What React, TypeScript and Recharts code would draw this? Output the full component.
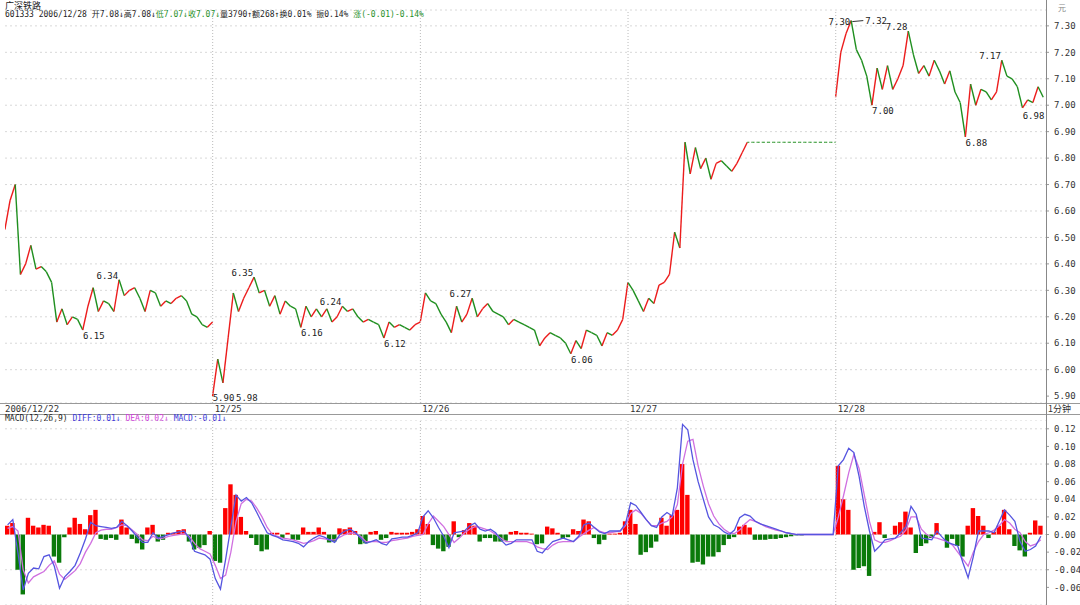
import {
  ComposedChart,
  Bar,
  Line,
  Scatter,
  XAxis,
  YAxis,
  CartesianGrid,
  ReferenceLine,
  Cell,
} from 'recharts'

// one slot = 6 minutes, 40 slots per trading day
const DAYS = ['2006/12/22', '12/25', '12/26', '12/27', '12/28']
const DAY_OPEN = [6.53, 5.9, 6.18, 6.33, 7.03]

const PRICE_1222 = [
  6.64, 6.70, 6.36, 6.40, 6.47, 6.38, 6.39, 6.37, 6.33, 6.18,
  6.23, 6.17, 6.20, 6.19, 6.15, 6.24, 6.31, 6.22, 6.26, 6.25,
  6.22, 6.34, 6.28, 6.30, 6.31, 6.27, 6.22, 6.30, 6.29, 6.24,
  6.26, 6.25, 6.27, 6.28, 6.26, 6.21, 6.20, 6.17, 6.16, 6.18,
]
const PRICE_1225 = [
  6.04, 5.95, 6.12, 6.29, 6.22, 6.27, 6.31, 6.35, 6.29, 6.30,
  6.24, 6.28, 6.21, 6.26, 6.24, 6.23, 6.16, 6.24, 6.20, 6.23,
  6.20, 6.23, 6.18, 6.20, 6.24, 6.22, 6.23, 6.20, 6.18, 6.19,
  6.18, 6.17, 6.12, 6.18, 6.16, 6.17, 6.16, 6.15, 6.17, 6.18,
]
const PRICE_1226 = [
  6.29, 6.26, 6.25, 6.21, 6.18, 6.14, 6.24, 6.18, 6.21, 6.27,
  6.20, 6.23, 6.25, 6.22, 6.21, 6.20, 6.17, 6.19, 6.18, 6.17,
  6.16, 6.15, 6.09, 6.12, 6.14, 6.13, 6.12, 6.10, 6.06, 6.11,
  6.08, 6.15, 6.14, 6.13, 6.09, 6.14, 6.13, 6.15, 6.19, 6.33,
]
const PRICE_1227 = [
  6.30, 6.26, 6.22, 6.27, 6.25, 6.32, 6.33, 6.36, 6.52, 6.46,
  6.86, 6.74, 6.84, 6.76, 6.80, 6.72, 6.78, 6.79, 6.77, 6.75,
  6.78, 6.82, 6.86, 6.86, 6.86, 6.86, 6.86, 6.86, 6.86, 6.86,
  6.86, 6.86, 6.86, 6.86, 6.86, 6.86, 6.86, 6.86, 6.86, 6.86,
]
const PRICE_1228 = [
  7.20, 7.27, 7.32, 7.21, 7.17, 7.11, 7.00, 7.14, 7.06, 7.15,
  7.06, 7.10, 7.15, 7.28, 7.19, 7.12, 7.15, 7.11, 7.17, 7.13,
  7.08, 7.13, 7.05, 7.01, 6.88, 7.08, 7.00, 7.06, 7.05, 7.02,
  7.05, 7.17, 7.11, 7.10, 7.07, 6.99, 7.02, 7.01, 7.07, 7.03,
]

const HIST = [
  0.010, 0.013, -0.040, -0.068, 0.019, 0.010, 0.008, 0.011, 0.010, -0.025,
  -0.032, -0.003, 0.008, 0.019, 0.012, 0.006, 0.022, 0.028, -0.005, -0.006,
  -0.004, -0.006, 0.017, 0.008, -0.005, -0.010, -0.017, 0.008, 0.011, -0.008,
  -0.006, 0.002, 0.002, 0.005, 0.006, -0.008, -0.017, -0.015, -0.012, 0.004,
  -0.030, -0.032, 0.030, 0.057, 0.045, 0.020, 0.004, -0.004, -0.012, -0.019,
  -0.017, 0.002, 0.002, -0.004, 0.002, -0.006, -0.006, 0.008, 0.003, 0.003,
  0.008, 0.003, -0.009, -0.008, 0.007, 0.006, 0.008, 0.004, -0.011, -0.010,
  0.003, 0.004, -0.006, -0.004, 0.003, 0.002, 0.002, 0.002, 0.003, 0.006,
  0.021, 0.012, -0.012, -0.016, -0.019, -0.014, 0.015, -0.003, 0.005, 0.013,
  0.010, -0.008, -0.004, -0.004, -0.008, -0.008, -0.007, 0.003, 0.004, 0.002,
  0.002, 0.001, -0.011, -0.010, 0.009, 0.007, 0.002, -0.004, -0.003, 0.006,
  0.004, 0.017, 0.015, -0.004, -0.011, -0.006, 0.001, 0.001, 0.002, 0.015,
  0.028, 0.012, -0.023, -0.020, -0.015, -0.008, 0.019, 0.010, 0.022, 0.028,
  0.080, 0.045, -0.032, -0.031, -0.034, -0.025, -0.025, -0.020, -0.012, -0.005,
  -0.003, 0.009, 0.011, 0.008, -0.006, -0.006, -0.006, -0.005, -0.005, -0.004,
  -0.003, -0.002, -0.001, -0.001, 0, 0, 0, 0, 0, 0,
  0.078, 0.040, 0.028, -0.040, -0.038, -0.036, -0.047, 0.003, 0.014, -0.004,
  0.000, 0.010, 0.014, 0.026, 0.008, -0.021, -0.013, -0.010, -0.004, 0.013,
  0.000, -0.015, -0.005, -0.013, -0.025, 0.010, 0.030, 0.021, 0.010, -0.004,
  0.003, 0.010, 0.028, 0.006, -0.013, -0.018, -0.025, 0.002, 0.016, 0.010,
]
const DIFF = [
  0.011, 0.017, -0.021, -0.063, -0.044, -0.038, -0.039, -0.025, -0.023, -0.036,
  -0.061, -0.048, -0.042, -0.035, -0.021, -0.005, 0.014, 0.010, 0.009, 0.008,
  0.007, 0.008, 0.015, 0.010, 0.004, -0.003, -0.009, -0.009, 0.002, -0.004,
  -0.002, 0.000, 0.002, 0.003, 0.004, -0.004, -0.019, -0.021, -0.023, -0.028,
  -0.050, -0.062, -0.028, 0.009, 0.045, 0.038, 0.042, 0.036, 0.025, 0.013,
  0.002, -0.001, -0.003, -0.006, -0.007, -0.008, -0.010, -0.014, -0.008, -0.004,
  -0.001, -0.003, -0.006, -0.009, 0.000, 0.004, 0.006, 0.002, -0.004, -0.010,
  -0.008, -0.006, -0.010, -0.012, -0.005, -0.004, -0.003, -0.003, -0.001, 0.002,
  0.020, 0.027, 0.019, 0.008, -0.002, -0.015, 0.002, 0.003, 0.004, 0.010,
  0.013, 0.006, 0.004, 0.006, 0.002, -0.006, -0.012, -0.010, -0.006, -0.006,
  -0.006, -0.006, -0.019, -0.021, -0.014, -0.008, -0.006, -0.004, -0.006, -0.008,
  -0.002, 0.011, 0.013, 0.008, 0.003, 0.001, 0.004, 0.004, 0.004, 0.012,
  0.036, 0.033, 0.025, 0.017, 0.010, 0.008, 0.020, 0.025, 0.021, 0.053,
  0.125, 0.119, 0.085, 0.060, 0.040, 0.020, 0.011, 0.008, 0.003, 0.000,
  0.005, 0.019, 0.023, 0.021, 0.015, 0.012, 0.010, 0.008, 0.006, 0.004,
  0.002, 0.001, 0, 0, 0, 0, 0, 0, 0, 0,
  0.078, 0.085, 0.098, 0.093, 0.066, 0.032, 0.004, -0.019, -0.013, -0.006,
  -0.005, -0.004, 0.002, 0.009, 0.032, 0.023, -0.004, -0.005, -0.006, 0.004,
  -0.003, -0.009, -0.011, -0.013, -0.032, -0.049, -0.025, 0.004, 0.004, 0.004,
  0.002, 0.015, 0.028, 0.022, 0.015, -0.008, -0.019, -0.017, -0.013, -0.002,
]
const DEA = [
  0.007, 0.009, 0.004, -0.040, -0.055, -0.048, -0.045, -0.042, -0.035, -0.030,
  -0.045, -0.051, -0.046, -0.041, -0.033, -0.020, -0.010, 0.002, 0.005, 0.006,
  0.006, 0.008, 0.011, 0.010, 0.005, 0.000, -0.006, -0.007, -0.002, -0.005,
  -0.004, -0.002, -0.001, 0.000, 0.001, -0.002, -0.010, -0.016, -0.019, -0.022,
  -0.035, -0.050, -0.046, -0.020, 0.015, 0.035, 0.040, 0.038, 0.030, 0.020,
  0.008, 0.000, -0.002, -0.004, -0.005, -0.006, -0.008, -0.010, -0.009, -0.007,
  -0.004, -0.005, -0.006, -0.006, -0.003, 0.000, 0.002, 0.001, -0.002, -0.008,
  -0.008, -0.008, -0.009, -0.009, -0.007, -0.006, -0.005, -0.004, -0.002, -0.001,
  0.000, 0.012, 0.021, 0.015, 0.009, 0.000, -0.009, -0.004, 0.002, 0.006,
  0.009, 0.008, 0.006, 0.004, 0.000, -0.004, -0.008, -0.008, -0.008, -0.008,
  -0.008, -0.010, -0.014, -0.016, -0.017, -0.012, -0.009, -0.008, -0.008, -0.008,
  -0.003, 0.001, 0.005, 0.008, 0.004, 0.002, 0.002, 0.003, 0.004, 0.010,
  0.024, 0.028, 0.024, 0.017, 0.010, 0.010, 0.013, 0.015, 0.020, 0.034,
  0.080, 0.106, 0.108, 0.078, 0.055, 0.035, 0.021, 0.012, 0.006, 0.002,
  0.001, 0.005, 0.012, 0.017, 0.015, 0.012, 0.009, 0.007, 0.005, 0.004,
  0.002, 0.001, 0, 0, 0, 0, 0, 0, 0, 0,
  0.020, 0.044, 0.070, 0.091, 0.075, 0.045, 0.015, -0.006, -0.009, -0.009,
  -0.007, -0.004, -0.002, 0.005, 0.020, 0.020, 0.006, 0.000, -0.003, -0.004,
  -0.006, -0.008, -0.012, -0.020, -0.028, -0.036, -0.020, -0.008, 0.000, 0.002,
  0.005, 0.010, 0.017, 0.013, 0.006, 0.002, -0.008, -0.013, -0.011, -0.006,
]

// high / low marks: slot boundary, anchor price, text, kind
const MARK_AT = [22, 15, 48, 57, 65, 73, 90, 109, 40, 44.5, 163, 163, 167, 174, 185, 192, 196]
const MARK_PRICE = [6.34, 6.15, 6.35, 6.16, 6.24, 6.12, 6.27, 6.06, 5.9, 5.9, 7.3, 7.32, 7.0, 7.28, 6.88, 7.17, 6.98]
const MARK_TEXT = ['6.34', '6.15', '6.35', '6.16', '6.24', '6.12', '6.27', '6.06', '5.90', '5.98', '7.30', '7.32', '7.00', '7.28', '6.88', '7.17', '6.98']
const MARK_KIND = ['high', 'low', 'high', 'low', 'high', 'low', 'high', 'low', 'base', 'base', 'high', 'leader', 'low', 'high', 'low', 'high', 'low']

const PRICE_TICKS = [5.9, 6.0, 6.1, 6.2, 6.3, 6.4, 6.5, 6.6, 6.7, 6.8, 6.9, 7.0, 7.1, 7.2, 7.3]
const MACD_TICKS = [-0.06, -0.04, -0.02, 0, 0.02, 0.04, 0.06, 0.08, 0.1, 0.12]

const PER_DAY = 40
const RED = '#ec1c1c'
const GREEN = '#1f8f1f'
const MONO = "'DejaVu Sans Mono', 'Noto Sans CJK SC', monospace"
const CJK = "'Noto Sans CJK SC', 'DejaVu Sans', sans-serif"

const PRICE = [...PRICE_1222, ...PRICE_1225, ...PRICE_1226, ...PRICE_1227, ...PRICE_1228]
const priceRows = PRICE.map((p, i) => {
  const prev = i % PER_DAY === 0 ? DAY_OPEN[i / PER_DAY] : PRICE[i - 1]
  return { x: i + 0.5, seg: [Math.min(prev, p), Math.max(prev, p)], dir: Math.sign(p - prev) }
})
const macdRows = HIST.map((h, i) => ({ x: i + 0.5, hist: h, diff: DIFF[i], dea: DEA[i] }))
const marks = MARK_AT.map((x, i) => ({ x, price: MARK_PRICE[i], text: MARK_TEXT[i], kind: MARK_KIND[i] }))
const dayLines = DAYS.slice(1).map((_, d) => (d + 1) * PER_DAY)

const SLOT_PX = 1041 / 200.5

// each slot draws one stroke from the previous close to its own close
function Segment(props: any) {
  const { x, y, width, height, payload } = props
  const mid = x + width / 2
  const x1 = mid - SLOT_PX / 2
  const x2 = mid + SLOT_PX / 2
  const top = Math.min(y, y + height)
  const bot = Math.max(y, y + height)
  if (payload.dir > 0) return <line x1={x1} y1={bot} x2={x2} y2={top} stroke={RED} strokeWidth={1.4} />
  if (payload.dir < 0) return <line x1={x1} y1={top} x2={x2} y2={bot} stroke={GREEN} strokeWidth={1.4} />
  return <line x1={x1} y1={top} x2={x2} y2={top} stroke={GREEN} strokeWidth={1.2} strokeDasharray="2 2" />
}

function MarkLabel(props: any) {
  const { cx, cy, payload } = props
  const t = { fontSize: 9, fontFamily: MONO, fill: '#222' }
  if (payload.kind === 'high')
    return <text x={cx - 1} y={cy - 1} textAnchor="end" {...t}>{payload.text}</text>
  if (payload.kind === 'low')
    return <text x={cx} y={cy + 9} textAnchor="start" {...t}>{payload.text}</text>
  if (payload.kind === 'leader')
    return (
      <g>
        <line x1={cx + 1} y1={cy + 1} x2={cx + 12} y2={cy} stroke="#333" />
        <text x={cx + 14} y={cy + 3} {...t}>{payload.text}</text>
      </g>
    )
  return <text x={cx} y={cy + 5} {...t}>{payload.text}</text>
}

const tickStyle = { fontSize: 9, fill: '#333', fontFamily: MONO }

export default function App() {
  return (
    <div style={{ position: 'absolute', left: 0, top: 0, width: 1080, height: 605, background: '#fff', overflow: 'hidden' }}>
      {/* header */}
      <div style={{ position: 'absolute', left: 5, top: 1, fontSize: 9, fontFamily: CJK, color: '#222', lineHeight: '10px' }}>
        广深铁路
      </div>
      <div style={{ position: 'absolute', left: 5, top: 10, fontSize: 8, fontFamily: MONO, color: '#222', lineHeight: '10px', whiteSpace: 'nowrap' }}>
        601333 2006/12/28 开7.08↓高7.08↓
        <span style={{ color: GREEN }}>低7.07↓收7.07↓</span>
        量3790↑额268↑换0.01% 振0.14% <span style={{ color: GREEN }}>涨(-0.01)-0.14%</span>
      </div>
      <div style={{ position: 'absolute', left: 1058, top: 2, fontSize: 8, fontFamily: CJK, color: '#888' }}>元</div>

      {/* price panel */}
      <div style={{ position: 'absolute', left: 0, top: 0 }}>
        <ComposedChart width={1080} height={403} data={priceRows} margin={{ top: 10, right: 0, left: 5, bottom: 0 }}>
          <CartesianGrid horizontal vertical={false} stroke="#d8d8d8" strokeDasharray="2 3" />
          <XAxis dataKey="x" type="number" domain={[0, 200.5]} allowDataOverflow hide />
          <YAxis
            orientation="right"
            width={34}
            domain={[5.874, 7.36]}
            allowDataOverflow
            ticks={PRICE_TICKS}
            tickFormatter={(v: number) => v.toFixed(2)}
            tick={tickStyle}
            axisLine={false}
            tickLine={{ stroke: '#999' }}
            tickSize={3}
            tickMargin={5}
          />
          {dayLines.map((d) => (
            <ReferenceLine key={d} x={d} stroke="#bbb" strokeDasharray="1 2" />
          ))}
          <Bar dataKey="seg" barSize={SLOT_PX} shape={<Segment />} isAnimationActive={false} />
          <Scatter data={marks} dataKey="price" shape={<MarkLabel />} isAnimationActive={false} />
        </ComposedChart>
      </div>

      {/* date strip */}
      <div style={{ position: 'absolute', left: 0, top: 403, width: 1080, height: 0, borderTop: '1px solid #999' }} />
      <div style={{ position: 'absolute', left: 0, top: 414, width: 1080, height: 0, borderTop: '1px solid #999' }} />
      {DAYS.map((d, i) => (
        <div
          key={d}
          style={{ position: 'absolute', left: 5 + i * PER_DAY * SLOT_PX + (i ? 2 : 0), top: 404, fontSize: 9, fontFamily: MONO, color: '#333', lineHeight: '10px' }}
        >
          {d}
        </div>
      ))}
      <div style={{ position: 'absolute', left: 1048, top: 404, fontSize: 9, fontFamily: CJK, color: '#333', lineHeight: '10px' }}>1分钟</div>

      {/* macd title */}
      <div style={{ position: 'absolute', left: 5, top: 414, fontSize: 8, fontFamily: MONO, color: '#222', lineHeight: '10px', whiteSpace: 'nowrap' }}>
        MACD(12,26,9) <span style={{ color: '#3a3ad8' }}>DIFF:0.01↓</span>{' '}
        <span style={{ color: '#d040d8' }}>DEA:0.02↓</span>{' '}
        <span style={{ color: '#3a3ad8' }}>MACD:-0.01↓</span>
      </div>

      {/* macd panel */}
      <div style={{ position: 'absolute', left: 0, top: 420 }}>
        <ComposedChart width={1080} height={185} data={macdRows} margin={{ top: 0, right: 0, left: 5, bottom: 0 }}>
          <CartesianGrid horizontal vertical={false} stroke="#d8d8d8" strokeDasharray="2 3" />
          <XAxis dataKey="x" type="number" domain={[0, 200.5]} allowDataOverflow hide />
          <YAxis
            orientation="right"
            width={34}
            domain={[-0.08, 0.13]}
            allowDataOverflow
            ticks={MACD_TICKS}
            tickFormatter={(v: number) => v.toFixed(2)}
            tick={tickStyle}
            axisLine={false}
            tickLine={{ stroke: '#999' }}
            tickSize={3}
            tickMargin={5}
          />
          {dayLines.map((d) => (
            <ReferenceLine key={d} x={d} stroke="#bbb" strokeDasharray="1 2" />
          ))}
          <Bar dataKey="hist" barSize={4.4} isAnimationActive={false}>
            {macdRows.map((r, i) => (
              <Cell key={i} fill={r.hist >= 0 ? '#f00' : '#0a7a0a'} />
            ))}
          </Bar>
          <Line dataKey="dea" type="linear" stroke="#d070e0" strokeWidth={1.3} dot={false} isAnimationActive={false} />
          <Line dataKey="diff" type="linear" stroke="#5555e0" strokeWidth={1.3} dot={false} isAnimationActive={false} />
        </ComposedChart>
      </div>

      {/* right axis line */}
      <div style={{ position: 'absolute', left: 1046, top: 0, width: 0, height: 605, borderLeft: '1px solid #888' }} />
    </div>
  )
}
